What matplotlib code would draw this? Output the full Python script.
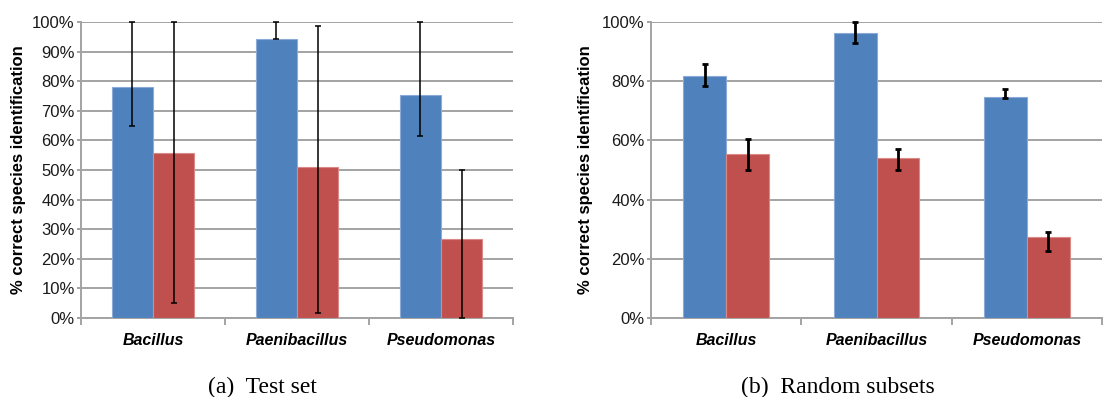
import matplotlib
matplotlib.use("Agg")
import matplotlib.pyplot as plt
import numpy as np
from matplotlib.ticker import FuncFormatter, MultipleLocator

plt.rcParams["font.family"] = ["Liberation Sans", "DejaVu Sans"]

genera = ["Bacillus", "Paenibacillus", "Pseudomonas"]

# (a) Test set: bar height and error-bar ends (%)
test_blue = [78.1, 94.4, 75.5]
test_blue_lo = [65.0, 94.1, 61.6]
test_blue_hi = [100.0, 100.0, 100.0]
test_red = [55.6, 51.1, 26.8]
test_red_lo = [5.0, 1.8, 0.0]
test_red_hi = [100.0, 98.6, 50.0]

# (b) Random subsets
rand_blue = [81.6, 96.3, 74.7]
rand_blue_lo = [78.5, 92.9, 74.2]
rand_blue_hi = [85.8, 100.0, 77.5]
rand_red = [55.5, 54.2, 27.2]
rand_red_lo = [50.0, 50.0, 22.5]
rand_red_hi = [60.6, 57.1, 28.9]

BLUE = "#4F81BD"
RED = "#C0504D"
GRID = "#A3A3A3"

fig = plt.figure(figsize=(11.05, 3.97), dpi=100)
ax1 = fig.add_axes([81 / 1105, 79 / 397, 432 / 1105, 296 / 397])
ax2 = fig.add_axes([651 / 1105, 79 / 397, 451 / 1105, 296 / 397])

pct = FuncFormatter(lambda v, _: f"{v:.0f}%")


def draw(ax, blue, blo, bhi, red, rlo, rhi, step, elw, caption, cap_x):
    x = np.arange(len(genera)) + 0.5
    w = 0.285
    blue = np.array(blue); red = np.array(red)
    ax.bar(x - w / 2, blue, w, color=BLUE, edgecolor="#8CAAD8", linewidth=0.8, zorder=3)
    ax.bar(x + w / 2, red, w, color=RED, edgecolor="#D98A88", linewidth=0.8, zorder=3)
    berr = [blue - np.array(blo), np.array(bhi) - blue]
    rerr = [red - np.array(rlo), np.array(rhi) - red]
    for xs, ys, err in ((x - w / 2, blue, berr), (x + w / 2, red, rerr)):
        ax.errorbar(xs, ys, yerr=err, fmt="none", ecolor="black",
                    elinewidth=elw, capsize=2.2, capthick=elw, zorder=4,
                    clip_on=False)
    ax.set_xlim(0, 3)
    ax.set_ylim(0, 100)
    ax.yaxis.set_major_locator(MultipleLocator(step))
    ax.yaxis.set_major_formatter(pct)
    ax.grid(axis="y", color=GRID, linewidth=1.4, zorder=0)
    ax.set_axisbelow(True)
    for s in ("top", "right"):
        ax.spines[s].set_visible(False)
    for s in ("left", "bottom"):
        ax.spines[s].set_color(GRID)
        ax.spines[s].set_linewidth(1.4)
    ax.set_xticks([0, 1, 2, 3])
    ax.set_xticklabels([])
    ax.tick_params(axis="x", direction="out", length=5, color=GRID, width=1.4)
    ax.tick_params(axis="y", direction="out", length=3, color=GRID, width=1.4,
                   labelsize=12, labelcolor="#1a1a1a", pad=1.5)
    for i, g in enumerate(genera):
        ax.text(x[i], -7.7, g, ha="center", va="center", fontsize=11.5,
                fontweight="bold", fontstyle="italic")
    ax.set_ylabel("% correct species identification", fontsize=12,
                  fontweight="bold")
    fig.text(cap_x / 1105, 1 - 387 / 397, caption, ha="center", va="center",
             fontsize=17, family="Liberation Serif")


draw(ax1, test_blue, test_blue_lo, test_blue_hi, test_red, test_red_lo, test_red_hi,
     10, 1.1, "(a)  Test set", 262)
draw(ax2, rand_blue, rand_blue_lo, rand_blue_hi, rand_red, rand_red_lo, rand_red_hi,
     20, 2.0, "(b)  Random subsets", 838)
ax1.yaxis.set_label_coords(-0.127, 0.5)
ax2.yaxis.set_label_coords(-0.128, 0.5)

fig.savefig("out.png", dpi=100)
